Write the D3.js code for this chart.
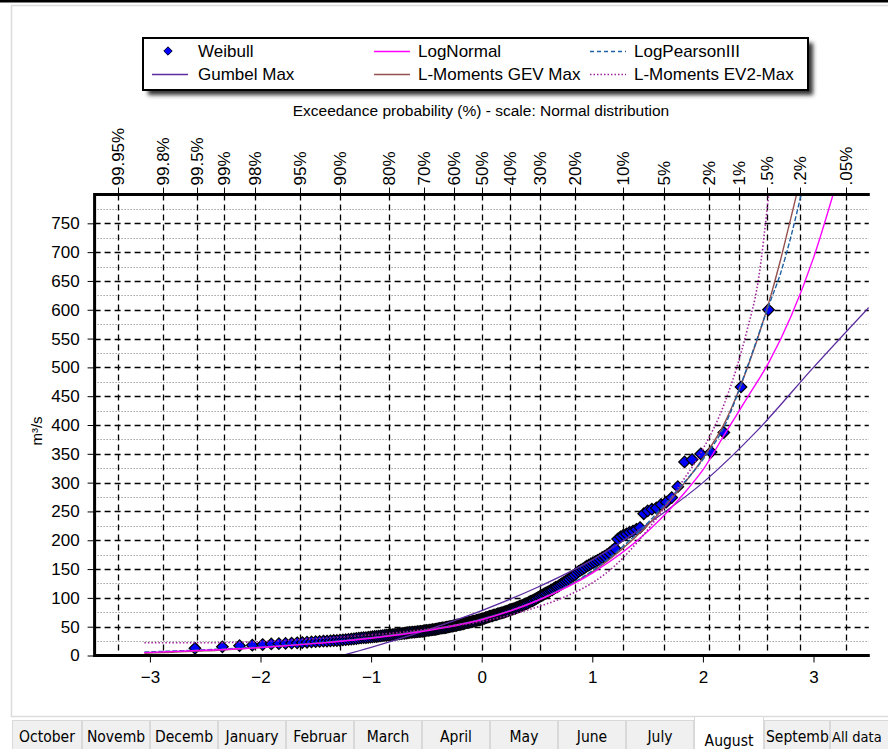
<!DOCTYPE html>
<html>
<head>
<meta charset="utf-8">
<script src="https://cdn.jsdelivr.net/npm/d3@7"></script>
<style>
  html, body { margin: 0; padding: 0; background: #fff; }
  svg { display: block; font-family: "Liberation Sans", Arial, sans-serif; }
</style>
</head>
<body>
<svg id="chart" width="888" height="749"></svg>
<script>
// ---- data -------------------------------------------------------------
// top axis: exceedance probability (%)
const probTicks  = [99.95, 99.8, 99.5, 99, 98, 95, 90, 80, 70, 60, 50, 40, 30, 20, 10, 5, 2, 1, 0.5, 0.2, 0.05];
const probLabels = ["99.95%", "99.8%", "99.5%", "99%", "98%", "95%", "90%", "80%", "70%", "60%", "50%",
                    "40%", "30%", "20%", "10%", "5%", "2%", "1%", ".5%", ".2%", ".05%"];
// bottom axis: standard normal variate
const zTicks = [-3, -2, -1, 0, 1, 2, 3];
// left axis: discharge (m³/s)
const flowTicks = [0, 50, 100, 150, 200, 250, 300, 350, 400, 450, 500, 550, 600, 650, 700, 750];
const flowMinor = [25, 75, 125, 175, 225, 275, 325, 375, 425, 475, 525, 575, 625, 675, 725, 775];

// August maxima, sorted from largest to smallest (Weibull plotting positions)
const weibullFlows = [
  600, 466, 387, 353, 350, 340, 336, 293,
  274, 266, 262, 256, 254, 251, 246,
  222, 219, 216, 214, 211, 209, 206, 202,
  186, 182, 178, 175, 172, 170, 167, 165, 163, 161, 159, 157,
  155, 152, 150, 148, 146, 143, 140,
  138, 136, 133, 131, 129,
  127, 125, 123, 121, 119,
  118, 116, 114, 113, 111,
  110, 108, 107, 105, 104, 102,
  101, 99, 98, 96, 95,
  94, 93, 91, 90, 89,
  88, 87, 86, 85, 84, 83,
  82, 81, 80.5, 80, 79,
  78, 77, 76, 75.5, 74.5,
  74, 73.5, 72.5, 72, 71,
  70.5, 70, 69, 68.5, 68, 67,
  66, 65.5, 64.5, 64, 63,
  62.5, 62, 61.5, 61, 60,
  59.5, 59, 58.5, 58, 57.5,
  57, 56.5, 56, 55, 54.5, 54,
  53.5, 53, 52.5, 52, 51.5,
  51, 50.5, 50, 49.5, 49,
  48.5, 48, 48, 47.5, 47,
  46.5, 46, 45.5, 45, 45, 44.5,
  44, 43.5, 43.5, 43, 42.5,
  42, 42, 41.5, 41.5, 41,
  40.5, 40.5, 40, 40, 39.5,
  39, 38.5, 38.5, 38, 37.5, 37,
  36.5, 36.5, 36, 36, 35.5,
  35, 35, 34.5, 34, 33.5,
  33, 33, 32.5, 32, 31.5,
  31, 31, 30.5, 30, 29.5,
  29, 28.5, 28, 27.5, 27,
  26.5, 26, 26, 25.5,
  25, 25, 24.5, 24,
  23.5, 23, 22.5,
  22, 21.5, 21,
  20.5, 20,
  19, 18,
  17,
  15,
  12.5
];

// fitted distributions: standard normal variate -> flow
const logNormalZ = [-3.05, -2.5, -2.0, -1.5, -1.0, -0.5, 0, 0.5, 1.0, 1.5, 1.85, 2.0, 2.2, 2.4, 2.6, 2.8, 3.0, 3.2];
const logNormalQ = [5, 9, 14, 21, 30, 43, 62, 95, 143, 215, 286, 322, 385, 447, 510, 590, 690, 815];

const logPearsonZ = [-3.05, -2.5, -2.0, -1.5, -1.0, -0.5, 0, 0.5, 1.0, 1.5, 1.77, 2.0, 2.2, 2.4, 2.6, 2.7, 2.8, 2.9];
const logPearsonQ = [6, 10, 15, 22, 31, 44, 63, 96, 147, 230, 287, 340, 400, 500, 610, 662, 730, 810];

const gumbelZ = [-1.26, -1.0, -0.5, 0, 0.5, 1.0, 1.5, 2.0, 2.5, 3.0, 3.5];
const gumbelQ = [0, 14, 44, 78, 118, 166, 228, 300, 392, 500, 604];

const gevZ = [-3.05, -2.5, -2.0, -1.5, -1.0, -0.5, 0, 0.5, 1.0, 1.5, 1.77, 2.0, 2.2, 2.4, 2.6, 2.7, 2.8, 2.86];
const gevQ = [4, 8, 14, 21, 31, 44, 63, 95, 145, 226, 284, 342, 405, 498, 615, 685, 763, 810];

const ev2Z = [-3.05, -2.6, -2.3, -2.0, -1.6, -1.2, -0.8, -0.4, 0, 0.4, 0.8, 1.0, 1.2, 1.4, 1.6, 1.8, 2.0, 2.2, 2.4, 2.5, 2.6];
const ev2Q = [22, 22, 22.5, 24, 28, 33, 39, 48, 59, 78, 106, 126, 155, 195, 243, 298, 358, 440, 565, 650, 810];

// month tabs as they read on screen
const tabNames = ["October", "Novemb", "Decemb", "January", "Februar", "March", "April",
                  "May", "June", "July", "August", "Septemb", "All data"];
const selectedTab = "August";

// ---- helpers ----------------------------------------------------------
// inverse of the standard normal CDF (Acklam's rational approximation)
function probit(p) {
  const a = [-3.969683028665376e+01, 2.209460984245205e+02, -2.759285104469687e+02,
             1.383577518672690e+02, -3.066479806614716e+01, 2.506628277459239e+00];
  const b = [-5.447609879822406e+01, 1.615858368580409e+02, -1.556989798598866e+02,
             6.680131188771011e+01, -1.328068155288572e+01];
  const c = [-7.784894002430293e-03, -3.223964580411365e-01, -2.400758277161838e+00,
             -2.549732539343734e+00, 4.374664141464968e+00, 2.938163982698783e+00];
  const d = [7.784695709041462e-03, 3.224671290700398e-01, 2.445134137142996e+00,
             3.754408661907416e+00];
  const pl = 0.02425, ph = 1 - pl;
  let q, r;
  if (p < pl) {
    q = Math.sqrt(-2 * Math.log(p));
    return (((((c[0]*q+c[1])*q+c[2])*q+c[3])*q+c[4])*q+c[5]) / ((((d[0]*q+d[1])*q+d[2])*q+d[3])*q+1);
  }
  if (p <= ph) {
    q = p - 0.5; r = q * q;
    return (((((a[0]*r+a[1])*r+a[2])*r+a[3])*r+a[4])*r+a[5])*q / (((((b[0]*r+b[1])*r+b[2])*r+b[3])*r+b[4])*r+1);
  }
  q = Math.sqrt(-2 * Math.log(1 - p));
  return -(((((c[0]*q+c[1])*q+c[2])*q+c[3])*q+c[4])*q+c[5]) / ((((d[0]*q+d[1])*q+d[2])*q+d[3])*q+1);
}
// exceedance probability in % -> normal variate
const exceedToZ = pct => probit(1 - pct / 100);
// square rhombus marker
const rhombus = r => `M0,${-r}L${r},0L0,${r}L${-r},0Z`;

// ---- layout -----------------------------------------------------------
const svg = d3.select("#chart");
const plot = { left: 94.6, right: 868.8, top: 194.5, bottom: 655.5 };

const x = d3.scaleLinear().domain([-3.5, 3.5]).range([plot.left, plot.right]);
const y = d3.scaleLinear().domain([0, 800]).range([plot.bottom, plot.top]);

// window frame
svg.append("rect").attr("x", 0).attr("y", 0).attr("width", 888).attr("height", 749).attr("fill", "#fff");
svg.append("rect").attr("x", 11.5).attr("y", 5.5).attr("width", 900).attr("height", 711)
  .attr("fill", "#fff").attr("stroke", "#dcdcdc").attr("stroke-width", 1.5);
svg.append("rect").attr("x", 0).attr("y", 0).attr("width", 888).attr("height", 2.5).attr("fill", "#000");

// clip region for the plot
const defs = svg.append("defs");
defs.append("clipPath").attr("id", "plotClip")
  .append("rect").attr("x", plot.left).attr("y", plot.top)
  .attr("width", plot.right - plot.left).attr("height", plot.bottom - plot.top);

// ---- grid -------------------------------------------------------------
const grid = svg.append("g");
grid.selectAll(".minor").data(flowMinor).join("line")
  .attr("x1", plot.left).attr("x2", plot.right)
  .attr("y1", d => Math.round(y(d)) + 0.5).attr("y2", d => Math.round(y(d)) + 0.5)
  .attr("stroke", "#777").attr("stroke-width", 1).attr("stroke-dasharray", "1,2");
grid.selectAll(".major").data(flowTicks.filter(d => d > 0)).join("line")
  .attr("x1", plot.left).attr("x2", plot.right)
  .attr("y1", d => Math.round(y(d)) + 0.5).attr("y2", d => Math.round(y(d)) + 0.5)
  .attr("stroke", "#000").attr("stroke-width", 1.3).attr("stroke-dasharray", "6,4");
grid.selectAll(".vert").data(probTicks).join("line")
  .attr("x1", d => Math.round(x(exceedToZ(d))) + 0.5).attr("x2", d => Math.round(x(exceedToZ(d))) + 0.5)
  .attr("y1", plot.top).attr("y2", plot.bottom)
  .attr("stroke", "#000").attr("stroke-width", 1.3).attr("stroke-dasharray", "6,4");

// ---- axes -------------------------------------------------------------
const tickFont = "17px";

// left axis
const yAxis = svg.append("g").attr("transform", `translate(${plot.left},0)`)
  .call(d3.axisLeft(y).tickValues(flowTicks).tickSize(7).tickPadding(8).tickFormat(d3.format("d")));
yAxis.select(".domain").remove();
yAxis.selectAll("text").attr("font-size", tickFont).attr("fill", "#000")
  .attr("font-family", "Liberation Sans, Arial, sans-serif");
yAxis.selectAll("line").attr("stroke", "#000");

// bottom axis (normal variate)
const xAxis = svg.append("g").attr("transform", `translate(0,${plot.bottom})`)
  .call(d3.axisBottom(x).tickValues(zTicks).tickSize(7).tickPadding(8).tickFormat(d3.format("d")));
xAxis.select(".domain").remove();
xAxis.selectAll("text").attr("font-size", tickFont).attr("fill", "#000")
  .attr("font-family", "Liberation Sans, Arial, sans-serif");
xAxis.selectAll("line").attr("stroke", "#000");

// top axis (exceedance probability)
const topAxis = svg.append("g");
topAxis.selectAll("line").data(probTicks).join("line")
  .attr("x1", d => Math.round(x(exceedToZ(d))) + 0.5).attr("x2", d => Math.round(x(exceedToZ(d))) + 0.5)
  .attr("y1", plot.top - 7).attr("y2", plot.top);
topAxis.selectAll("line").attr("stroke", "#000");
topAxis.selectAll("text").data(probTicks).join("text")
  .attr("transform", d => `translate(${x(exceedToZ(d)) + 6},${plot.top - 9}) rotate(-90)`)
  .attr("text-anchor", "start").attr("font-size", tickFont).attr("fill", "#000")
  .text((d, i) => probLabels[i]);

svg.append("text").attr("x", 481).attr("y", 116).attr("text-anchor", "middle")
  .attr("font-size", "15.5px").attr("fill", "#000")
  .text("Exceedance probability (%) - scale: Normal distribution");

svg.append("text").attr("transform", "translate(42,431) rotate(-90)")
  .attr("text-anchor", "middle").attr("font-size", "15px").attr("fill", "#000")
  .text("m³/s");

// ---- observations -----------------------------------------------------
const n = weibullFlows.length;
const obs = weibullFlows.map((q, i) => ({ z: probit(1 - (i + 1) / (n + 1)), q }));

const marks = svg.append("g").attr("clip-path", "url(#plotClip)");
marks.selectAll("path.obs").data(obs.slice().reverse()).join("path")
  .attr("class", "obs")
  .attr("transform", d => `translate(${x(d.z)},${y(d.q)})`)
  .attr("d", rhombus(5.8))
  .attr("fill", "#0000ff").attr("stroke", "#000").attr("stroke-width", 1.2);

// ---- fitted curves ----------------------------------------------------
const line = d3.line().x(d => x(d[0])).y(d => y(d[1])).curve(d3.curveMonotoneX);
const curves = [
  { name: "Gumbel Max",         z: gumbelZ,     q: gumbelQ,     color: "#5b2ca0", dash: null,  width: 1.3 },
  { name: "L-Moments GEV Max",  z: gevZ,        q: gevQ,        color: "#94504e", dash: null,  width: 1.4 },
  { name: "LogPearsonIII",      z: logPearsonZ, q: logPearsonQ, color: "#1f63a6", dash: "5,2", width: 1.4 },
  { name: "LogNormal",          z: logNormalZ,  q: logNormalQ,  color: "#ff00ff", dash: null,  width: 1.4 },
  { name: "L-Moments EV2-Max",  z: ev2Z,        q: ev2Q,        color: "#a0259c", dash: "1.5,2", width: 1.6 }
];
curves.forEach(c => {
  marks.append("path")
    .attr("d", line(c.z.map((z, i) => [z, c.q[i]])))
    .attr("fill", "none").attr("stroke", c.color).attr("stroke-width", c.width)
    .attr("stroke-dasharray", c.dash);
});

// ---- frame of the plot (top, left, bottom) ----------------------------
svg.append("path")
  .attr("d", `M${plot.right + 1},${plot.top} H${plot.left} V${plot.bottom} H${plot.right + 1}`)
  .attr("fill", "none").attr("stroke", "#000").attr("stroke-width", 3);

// ---- legend -----------------------------------------------------------
const shadow = defs.append("filter").attr("id", "shadow").attr("x", "-10%").attr("y", "-30%")
  .attr("width", "120%").attr("height", "170%");
shadow.append("feGaussianBlur").attr("stdDeviation", 2);

const lg = { x: 143, y: 38, w: 665, h: 52 };
svg.append("rect").attr("x", lg.x + 5).attr("y", lg.y + 5).attr("width", lg.w).attr("height", lg.h)
  .attr("fill", "#333").attr("filter", "url(#shadow)");
svg.append("rect").attr("x", lg.x).attr("y", lg.y).attr("width", lg.w).attr("height", lg.h)
  .attr("fill", "#fff").attr("stroke", "#000").attr("stroke-width", 2);

const legendItems = [
  { label: "Weibull",           col: 0, row: 0, kind: "point" },
  { label: "LogNormal",         col: 1, row: 0, kind: "LogNormal" },
  { label: "LogPearsonIII",     col: 2, row: 0, kind: "LogPearsonIII" },
  { label: "Gumbel Max",        col: 0, row: 1, kind: "Gumbel Max" },
  { label: "L-Moments GEV Max", col: 1, row: 1, kind: "L-Moments GEV Max" },
  { label: "L-Moments EV2-Max", col: 2, row: 1, kind: "L-Moments EV2-Max" }
];
const colX = [152, 374, 590];
const rowY = [51, 74];
legendItems.forEach(it => {
  const sx = colX[it.col], sy = rowY[it.row];
  if (it.kind === "point") {
    svg.append("path").attr("transform", `translate(${sx + 16},${sy})`)
      .attr("d", rhombus(4.2))
      .attr("fill", "#0000ff").attr("stroke", "#000030").attr("stroke-width", 1);
  } else {
    const c = curves.find(k => k.name === it.kind);
    svg.append("line").attr("x1", sx).attr("x2", sx + 36).attr("y1", sy + 0.5).attr("y2", sy + 0.5)
      .attr("stroke", c.color).attr("stroke-width", 1.5)
      .attr("stroke-dasharray", it.kind === "LogPearsonIII" ? "4,3" : c.dash);
  }
  svg.append("text").attr("x", sx + (it.col === 0 ? 46 : 44)).attr("y", sy + 6)
    .attr("font-size", "17px").attr("fill", "#000").text(it.label);
});

// ---- month tabs -------------------------------------------------------
const tabEdges = [12, 82, 150, 218, 286, 354, 422, 490, 558, 626, 694, 764, 830, 900];
const tabs = svg.append("g").attr("font-family", "'DejaVu Sans Condensed', 'DejaVu Sans', sans-serif")
  .attr("font-stretch", "condensed");
tabNames.forEach((name, i) => {
  const x0 = tabEdges[i], x1 = tabEdges[i + 1];
  const sel = name === selectedTab;
  const top = sel ? 716 : 720;
  tabs.append("rect").attr("x", x0 + 0.5).attr("y", top + 0.5).attr("width", x1 - x0 - 1).attr("height", 749 - top)
    .attr("fill", sel ? "#fff" : "#f0f0f0").attr("stroke", "#d9d9d9").attr("stroke-width", 1);
  const clipId = "tabclip" + i;
  defs.append("clipPath").attr("id", clipId).append("rect")
    .attr("x", x0 + 1).attr("y", top).attr("width", x1 - x0 - 2).attr("height", 749 - top);
  const last = i === tabNames.length - 1;
  const t = tabs.append("text").attr("clip-path", `url(#${clipId})`)
    .attr("y", sel ? 746 : 742).attr("font-size", last ? "14.5px" : "15.5px").attr("fill", "#000").text(name);
  const w = t.node().getComputedTextLength();
  if (last || w > x1 - x0 - 4) t.attr("x", x0 + 2).attr("text-anchor", "start");
  else t.attr("x", (x0 + x1) / 2).attr("text-anchor", "middle");
});
</script>
</body>
</html>
